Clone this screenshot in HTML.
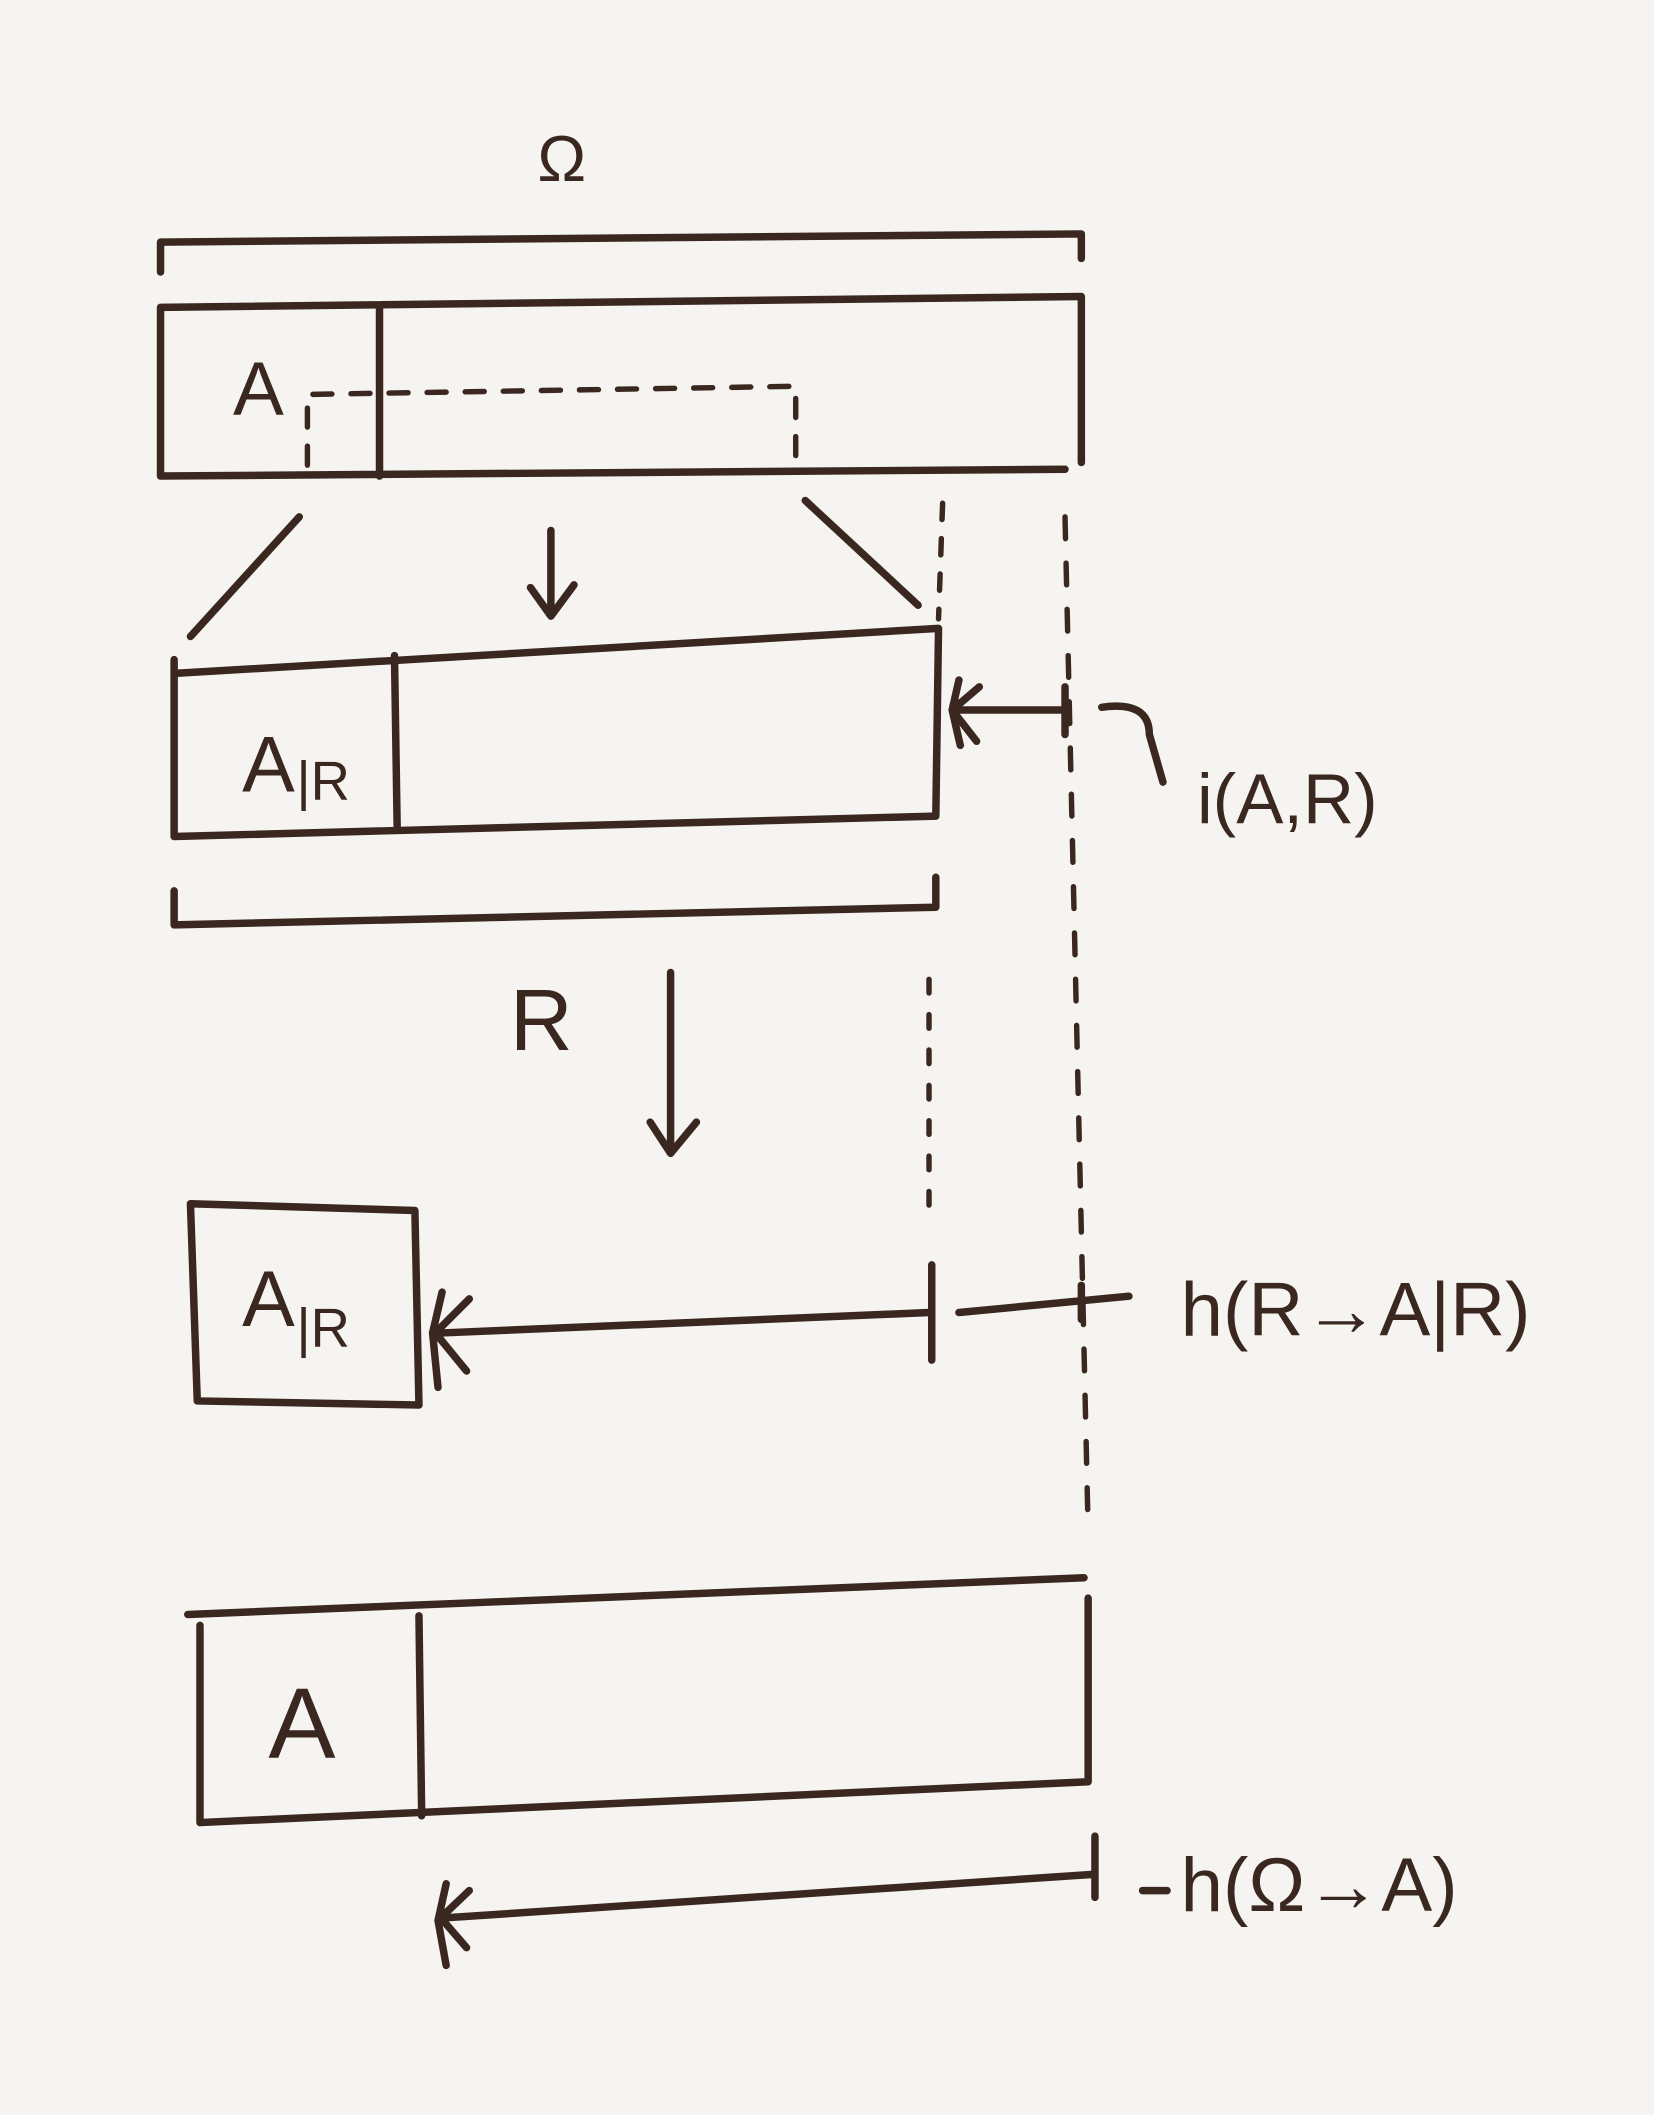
<!DOCTYPE html>
<html><head><meta charset="utf-8"><style>
html,body{margin:0;padding:0;background:#f6f4f1;}
svg{display:block;}
text{font-family:"Liberation Sans",sans-serif;fill:#3a2820;}
</style></head><body>
<svg width="1654" height="2115" viewBox="0 0 1216 1555" xmlns="http://www.w3.org/2000/svg">
<rect width="1216" height="1555" fill="#f6f4f1"/>
<g stroke="#3a2820" stroke-width="5.5" fill="none" stroke-linecap="round" stroke-linejoin="round">
<path d="M118 200 L118 178 L795 172 L795 190"/>
<path d="M118 226 L795 218 L795 340 M118 226 L118 350 L783 345 M279 226 L279 350"/>
<path d="M226 342 L226 290 L585 284 L585 336" stroke-dasharray="14 14" stroke-width="4"/>
<path d="M220 380 L140 468 M592 368 L675 445"/>
<path d="M405 390 L405 452 M390 432 L405 453 L422 430"/>
<path d="M693 370 L690 455" stroke-dasharray="12 14" stroke-width="4"/>
<path d="M783 380 L800 1125" stroke-dasharray="16 18" stroke-width="4"/>
<path d="M683 720 L683 900" stroke-dasharray="10 16" stroke-width="4"/>
<path d="M130 495 L690 462 L688 600 L128 615 L128 485 M290 482 L292 610"/>
<path d="M783 522 L702 522 M783 505 L783 540 M705 500 L700 522 L706 548 M700 522 L720 505 M700 522 L718 545"/>
<path d="M810 520 Q845 515 845 540 L855 575"/>
<path d="M128 655 L128 680 L688 667 L688 645"/>
<path d="M493 715 L493 845 M478 825 L493 848 L512 825"/>
<path d="M140 885 L305 890 L308 1033 L145 1030 Z"/>
<path d="M683 965 L325 980 M685 930 L685 1000 M325 950 L318 980 L322 1020 M320 980 L345 955 M320 980 L343 1008"/>
<path d="M705 965 L830 953 M795 945 L795 970"/>
<path d="M138 1187 L797 1160 M800 1175 L800 1310 L147 1340 L147 1195 M308 1188 L310 1335"/>
<path d="M805 1378 L328 1410 M805 1350 L805 1395 M328 1385 L322 1412 L328 1445 M324 1410 L345 1390 M324 1410 L343 1432"/>
<path d="M840 1390 L858 1390"/>
</g>
<text x="413" y="133" font-size="48" text-anchor="middle">Ω</text>
<text x="190" y="305" font-size="56" text-anchor="middle">A</text>
<text x="178" y="582" font-size="58">A</text>
<text x="218" y="588" font-size="40">|R</text>
<text x="880" y="605" font-size="52">i(A,R)</text>
<text x="398" y="772" font-size="64" text-anchor="middle">R</text>
<text x="178" y="975" font-size="58">A</text>
<text x="218" y="990" font-size="40">|R</text>
<text x="868" y="982" font-size="56">h(R→A|R)</text>
<text x="222" y="1292" font-size="74" text-anchor="middle">A</text>
<text x="868" y="1405" font-size="56">h(Ω→A)</text>
</svg>
</body></html>
